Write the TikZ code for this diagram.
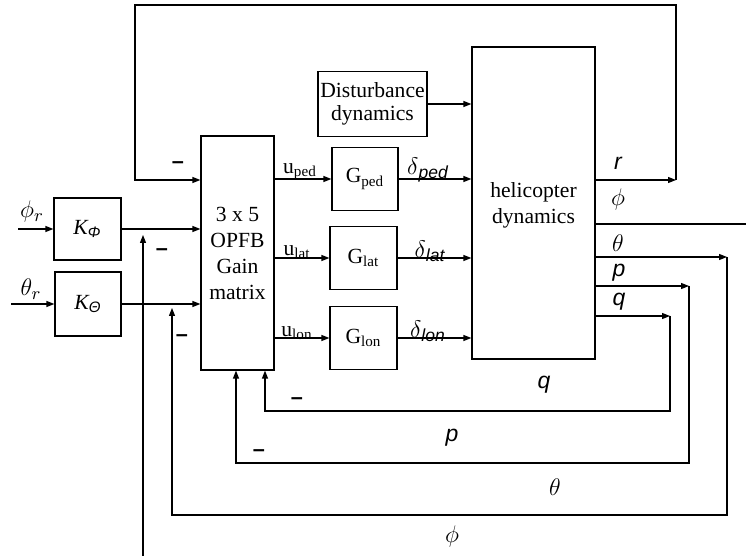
\documentclass[tikz,border=0pt]{standalone}
\usepackage{fontspec}
\setmainfont{Liberation Serif}
\newfontfamily\arialfont{Liberation Sans}
\usetikzlibrary{arrows.meta}
\begin{document}
\begin{tikzpicture}[x=0.5pt,y=-0.5pt,
  every node/.style={font=\fontsize{10.8}{13}\selectfont, inner sep=0pt},
  box/.style={draw, line width=0.6pt, align=center, rectangle},
  wire/.style={line width=0.6pt},
  arr/.style={wire, -{Triangle[length=4pt,width=3pt]}},
  minus/.style={font=\fontsize{10.8}{13}\selectfont\arialfont\bfseries},
  mathlbl/.style={font=\fontsize{12.5}{15}\selectfont},
  sansit/.style={font=\fontsize{11.5}{13}\selectfont\arialfont\itshape}]
\useasboundingbox (0,0) rectangle (746,556);

% blocks
\node[box, minimum width=33.5pt, minimum height=31pt] (Kphi) at (87.5,229) {\itshape K\textsubscript{\arialfont Φ}};
\node[box, minimum width=33pt, minimum height=32pt] (Ktheta) at (88,304) {\itshape K\textsubscript{\arialfont Θ}};
\node[box, minimum width=36.5pt, minimum height=117pt] (OPFB) at (237.5,253) {3 x 5\\OPFB\\Gain\\matrix};
\node[box, minimum width=54.5pt, minimum height=32.5pt, font=\fontsize{10.8}{11.2}\selectfont] (Dist) at (372.5,104) {Disturbance\\dynamics};
\node[box, minimum width=33pt, minimum height=31.5pt] (Gped) at (365,179) {G\textsubscript{ped}};
\node[box, minimum width=33.5pt, minimum height=31.5pt] (Glat) at (363.5,258) {G\textsubscript{lat}};
\node[box, minimum width=33.5pt, minimum height=31.5pt] (Glon) at (363.5,338) {G\textsubscript{lon}};
\node[box, minimum width=61.5pt, minimum height=156pt] (Heli) at (533.5,203) {};
\node (HeliTxt) at (533.5,205) [align=center] {helicopter\\dynamics};

% reference inputs
\coordinate (phiin) at (18,229);
\coordinate (thin) at (11,304);
\draw[arr] (phiin) -- (Kphi.west);
\draw[arr] (thin) -- (Ktheta.west);
\draw[arr] (Kphi.east) -- (Kphi.east -| OPFB.west);
\draw[arr] (Ktheta.east) -- (Ktheta.east -| OPFB.west);

% top r loop
\coordinate (rc) at (676,180);
\coordinate (tl) at (135,5);
\draw[arr] (Heli.east |- rc) -- (rc);
\draw[arr] (rc) |- (tl) |- (OPFB.west |- rc);

% control signals
\draw[arr] (OPFB.east |- Gped.west) -- (Gped.west);
\draw[arr] (OPFB.east |- Glat.west) -- (Glat.west);
\draw[arr] (OPFB.east |- Glon.west) -- (Glon.west);
\draw[arr] (Gped.east) -- (Gped.east -| Heli.west);
\draw[arr] (Glat.east) -- (Glat.east -| Heli.west);
\draw[arr] (Glon.east) -- (Glon.east -| Heli.west);
\draw[arr] (Dist.east) -- (Dist.east -| Heli.west);

% outputs
\coordinate (phiout) at (746,224);
\draw[wire] (Heli.east |- phiout) -- (phiout);
\coordinate (thc) at (727,257);
\coordinate (thb) at (172,515);
\coordinate (tht) at (172,308);
\draw[arr] (Heli.east |- thc) -- (thc);
\draw[arr] (thc) |- (thb) -- (tht);
\coordinate (pc) at (689,286);
\coordinate (pb) at (236,463);
\draw[arr] (Heli.east |- pc) -- (pc);
\draw[arr] (pc) |- (pb) -- (pb |- OPFB.south);
\coordinate (qc) at (670,316);
\coordinate (qb) at (265,411);
\draw[arr] (Heli.east |- qc) -- (qc);
\draw[arr] (qc) |- (qb) -- (qb |- OPFB.south);
\coordinate (phb) at (143,556);
\coordinate (pht) at (143,235);
\draw[arr] (phb) -- (pht);

% labels
\node[mathlbl] (lphir) at (32,212) {$\phi_r$};
\node[mathlbl] (lthr) at (31,289) {$\theta_r$};
\node[minus] (m1) at (178,165) {–};
\node[minus] (m2) at (162,252) {–};
\node[minus] (m3) at (182,338) {–};
\node[minus] (m4) at (297,401) {–};
\node[minus] (m5) at (259,453) {–};
\node (uped) at (300,172) {u\textsubscript{ped}};
\node (ulat) at (297,252) {u\textsubscript{lat}};
\node (ulon) at (297,333) {u\textsubscript{lon}};
\node[mathlbl] (dped) at (428,170) {$\delta$\textsubscript{\arialfont\itshape ped}};
\node[mathlbl] (dlat) at (430,251) {$\delta$\textsubscript{\arialfont\itshape lat}};
\node[mathlbl] (dlon) at (428,331) {$\delta$\textsubscript{\arialfont\itshape lon}};
\node[sansit] (lr) at (618,163) {r};
\node[mathlbl] (lphi) at (618,200) {$\phi$};
\node[mathlbl] (lth) at (618,243) {$\theta$};
\node[sansit] (lp) at (619,273) {p};
\node[sansit] (lq) at (619,302) {q};
\node[sansit] (bq) at (544,385) {q};
\node[sansit] (bp) at (452,438) {p};
\node[mathlbl] (bth) at (555,487) {$\theta$};
\node[mathlbl] (bphi) at (452,537) {$\phi$};
\end{tikzpicture}
\end{document}
